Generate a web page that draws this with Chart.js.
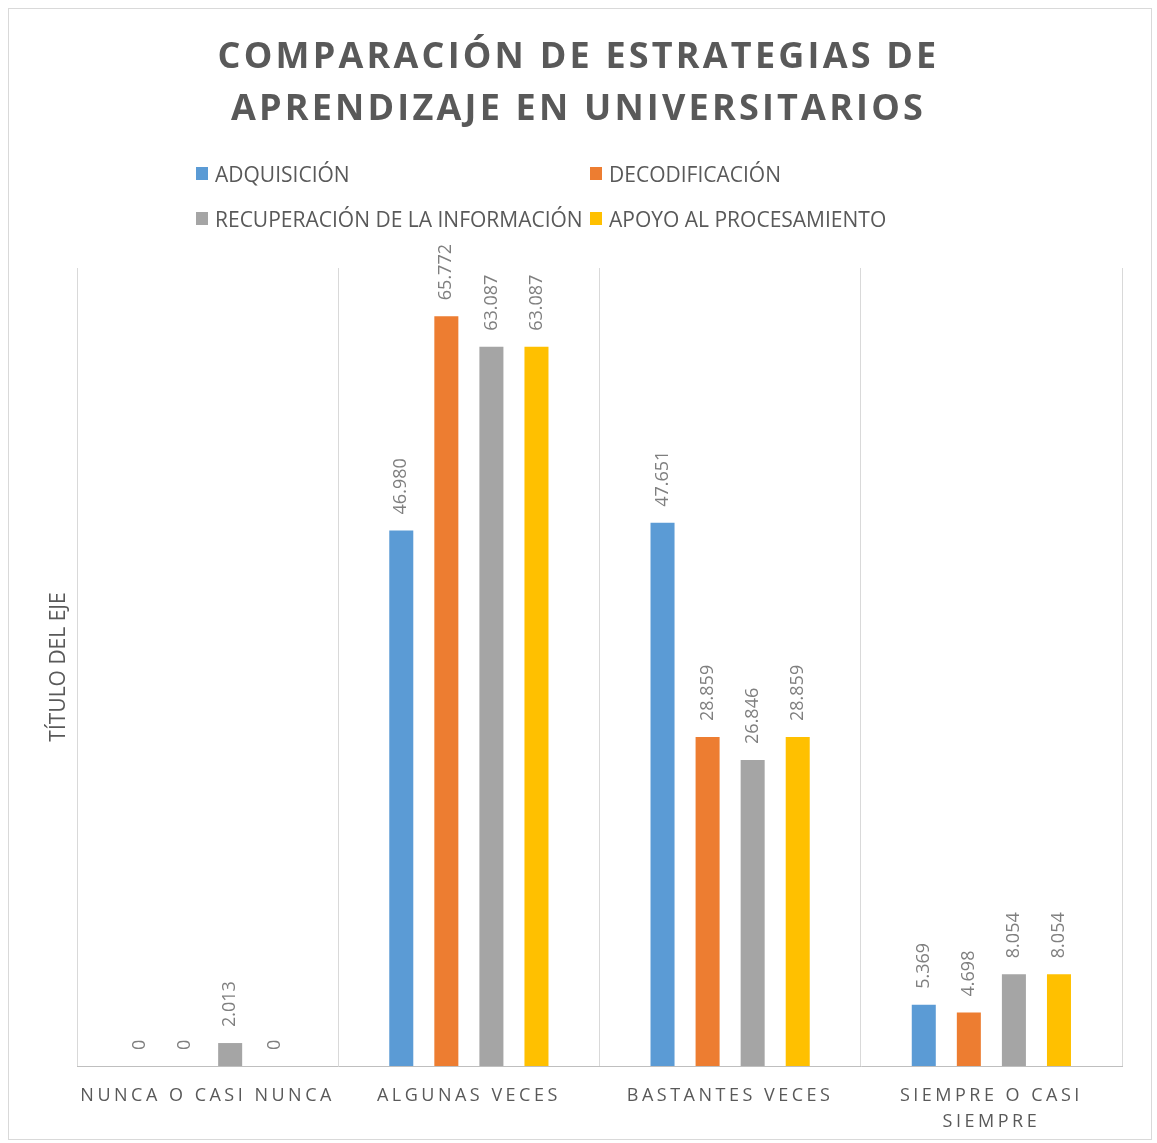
<!DOCTYPE html>
<html lang="es">
<head>
<meta charset="utf-8">
<title>Comparación de estrategias de aprendizaje en universitarios</title>
<script src="https://cdn.jsdelivr.net/npm/chart.js@4.4.1/dist/chart.umd.min.js"></script>
<style>
  body { margin: 0; background: #fff; font-family: 'Open Sans', sans-serif; }
  #wrap { position: relative; width: 1157px; height: 1143px; }
  #marco { position: absolute; left: 8px; top: 8px; width: 1144px; height: 1132px; border: 1px solid #d9d9d9; box-sizing: border-box; }
  #titulo { position: absolute; left: 0; top: 29px; width: 1157px; text-align: center; font-weight: 700; font-size: 36px; line-height: 52px; letter-spacing: 3.2px; color: #595959; }
  #leyenda { position: absolute; left: 196px; top: 151px; display: grid; grid-template-columns: 394px auto; grid-auto-rows: 45px; }
  .item { display: flex; align-items: center; font-size: 21px; color: #595959; white-space: nowrap; }
  .caja { display: inline-block; width: 12px; height: 13px; margin-right: 7px; }
  canvas { position: absolute; left: 0; top: 0; }
</style>
</head>
<body>
<div id="wrap">
  <div id="marco"></div>
  <canvas id="grafico" width="1157" height="1143"></canvas>
  <div id="titulo">COMPARACIÓN DE ESTRATEGIAS DE<br>APRENDIZAJE EN UNIVERSITARIOS</div>
  <div id="leyenda"></div>
</div>
<script>
// Datos (porcentajes)
const categorias = ['NUNCA O CASI NUNCA', 'ALGUNAS VECES', 'BASTANTES VECES', ['SIEMPRE O CASI', 'SIEMPRE']];
const series = ['ADQUISICIÓN', 'DECODIFICACIÓN', 'RECUPERACIÓN DE LA INFORMACIÓN', 'APOYO AL PROCESAMIENTO'];
const adquisicion = [0, 46.980, 47.651, 5.369];
const decodificacion = [0, 65.772, 28.859, 4.698];
const recuperacion = [2.013, 63.087, 26.846, 8.054];
const apoyo = [0, 63.087, 28.859, 8.054];
const colores = ['#5b9bd5', '#ed7d31', '#a5a5a5', '#ffc000'];

Chart.defaults.font.family = "'Open Sans', sans-serif";
Chart.defaults.color = '#595959';

// Etiquetas de valor giradas encima de cada barra
const etiquetasBarras = {
    id: 'etiquetasBarras',
    afterDatasetsDraw(chart) {
        const ctx = chart.ctx;
        ctx.save();
        ctx.font = "18px 'Open Sans'";
        ctx.fillStyle = '#7f7f7f';
        ctx.textAlign = 'left';
        ctx.textBaseline = 'middle';
        chart.data.datasets.forEach((ds, i) => {
            chart.getDatasetMeta(i).data.forEach((bar, j) => {
                const v = ds.data[j];
                const txt = v === 0 ? '0' : v.toFixed(3);
                ctx.save();
                ctx.translate(bar.x, bar.y - 16);
                ctx.rotate(-Math.PI / 2);
                ctx.fillText(txt, 0, 0);
                ctx.restore();
            });
        });
        ctx.restore();
    }
};

// Espaciado de letras en las etiquetas del eje X
const ejeEspaciado = {
    id: 'ejeEspaciado',
    beforeDraw(chart) {
        const x = chart.scales.x;
        if (x._espaciado) return;
        const original = x.drawLabels.bind(x);
        x.drawLabels = (area) => {
            chart.ctx.save();
            chart.ctx.letterSpacing = '3.5px';
            original(area);
            chart.ctx.restore();
        };
        x._espaciado = true;
    }
};

const datos = [adquisicion, decodificacion, recuperacion, apoyo];

const grafico = new Chart(document.getElementById('grafico'), {
    type: 'bar',
    data: {
        labels: categorias,
        datasets: series.map((nombre, i) => ({
            label: nombre,
            data: datos[i],
            backgroundColor: colores[i],
            categoryPercentage: 0.69,
            barPercentage: 0.533
        }))
    },
    options: {
        responsive: false,
        animation: false,
        layout: { padding: { top: 268, left: 45, right: 35, bottom: 11 } },
        plugins: {
            legend: { display: false },
            title: { display: false },
            tooltip: { enabled: false }
        },
        scales: {
            x: {
                afterFit: (scale) => { scale.height = 66; },
                grid: { color: '#d9d9d9', offset: true, drawTicks: false },
                border: { display: true, color: '#bfbfbf', width: 1 },
                ticks: {
                    padding: 17,
                    maxRotation: 0,
                    autoSkip: false,
                    color: '#595959',
                    font: { size: 18, lineHeight: 1.45 }
                }
            },
            y: {
                min: 0,
                max: 70,
                afterFit: (scale) => { scale.width = 32; },
                grid: { display: false },
                border: { display: false },
                ticks: { display: false },
                title: {
                    display: true,
                    text: 'TÍTULO DEL EJE',
                    color: '#595959',
                    font: { size: 21, lineHeight: 1.2 },
                    padding: { top: 1, bottom: 6 }
                }
            }
        }
    },
    plugins: [etiquetasBarras, ejeEspaciado]
});

// Leyenda en HTML en dos columnas
const leyenda = document.getElementById('leyenda');
grafico.data.datasets.forEach(ds => {
    const item = document.createElement('div');
    item.className = 'item';
    item.innerHTML = `<span class="caja" style="background:${ds.backgroundColor}"></span>${ds.label}`;
    leyenda.appendChild(item);
});
</script>
</body>
</html>
